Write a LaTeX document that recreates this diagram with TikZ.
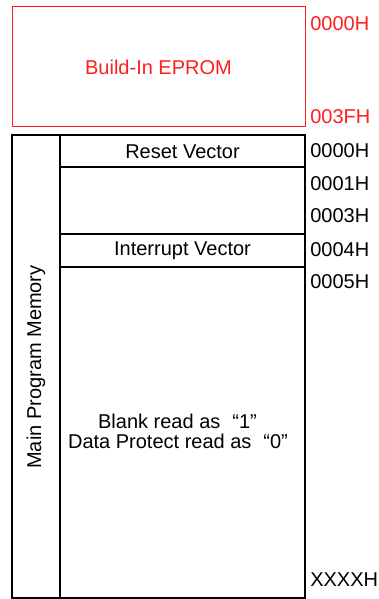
\documentclass[tikz,border=0pt]{standalone}
\usepackage{fontspec}
\setmainfont{Liberation Sans}
\definecolor{eprom}{RGB}{255,30,30}
\begin{document}
\begin{tikzpicture}[x=0.75pt,y=-0.75pt,
  box/.style={draw,line width=0.9pt},
  addr/.style={anchor=west,inner sep=0pt,font=\fontsize{15}{17}\selectfont},
  lbl/.style={inner sep=0pt,font=\fontsize{15}{17}\selectfont}]
\useasboundingbox (0,0) rectangle (378,599);
% EPROM
\node[box,draw=eprom,minimum width=293*0.75pt,minimum height=120*0.75pt,anchor=north west,inner sep=0pt] (eprom) at (12,6) {};
\node[lbl,text=eprom] (epromtxt) at (158.5,67) {Build-In EPROM};
\node[addr,text=eprom] (e0) at (310,24) {0000H};
\node[addr,text=eprom] (e1) at (310,117) {003FH};
% main memory
\draw[box] (12,135) rectangle (305,598);
\coordinate (vtop) at (60,135);
\coordinate (vbot) at (60,598);
\draw[box] (vtop) -- (vbot);
\coordinate (h1l) at (60,167); \coordinate (h1r) at (305,167);
\coordinate (h2l) at (60,234); \coordinate (h2r) at (305,234);
\coordinate (h3l) at (60,267); \coordinate (h3r) at (305,267);
\draw[box] (h1l) -- (h1r);
\draw[box] (h2l) -- (h2r);
\draw[box] (h3l) -- (h3r);
\node[lbl] (reset) at (182.5,152) {Reset Vector};
\node[lbl] (intr) at (182.5,250.5) {Interrupt Vector};
\node[lbl,rotate=90] (mpm) at (36,367) {Main Program Memory};
\node[lbl] (blank) at (177.5,421) {Blank read as\hspace{0.6em}“1”};
\node[lbl] (prot) at (178,441) {Data Protect read as\hspace{0.6em}“0”};
\node[addr] (a0) at (310,151) {0000H};
\node[addr] (a1) at (310,184) {0001H};
\node[addr] (a3) at (310,216) {0003H};
\node[addr] (a4) at (310,250) {0004H};
\node[addr] (a5) at (310,282) {0005H};
\node[addr] (ax) at (310,580) {XXXXH};
\end{tikzpicture}
\end{document}
